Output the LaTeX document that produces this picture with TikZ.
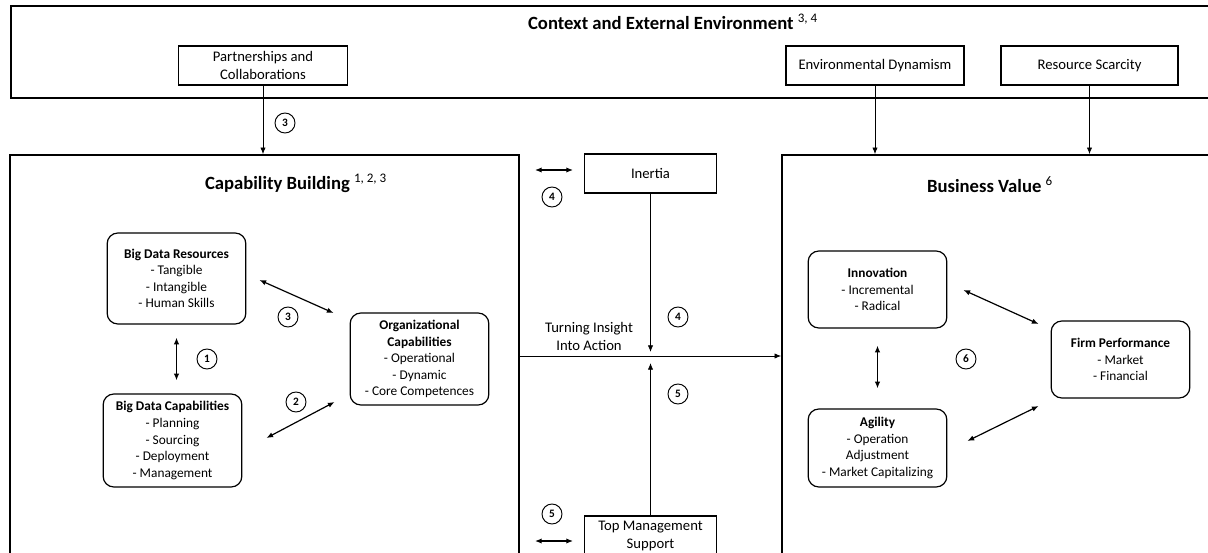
\documentclass[tikz,border=0pt]{standalone}
\usepackage{fontspec}
\setmainfont{Carlito}
\usetikzlibrary{arrows.meta,fit,positioning}
\newcommand{\hochz}[1]{\textsuperscript{\mdseries #1}}
\tikzset{
 frame/.style={draw,line width=1.2pt,inner sep=0pt},
 topbox/.style={draw,line width=0.8pt,align=center,inner sep=0pt,font=\fontsize{11}{13}\selectfont},
 inbox/.style={draw,line width=0.9pt,rounded corners=8pt,align=center,inner sep=0pt,minimum width=104pt,font=\fontsize{10}{12.4}\selectfont},
 num/.style={draw,circle,line width=0.7pt,minimum size=15pt,inner sep=0pt,font=\bfseries\fontsize{8.5}{8.5}\selectfont},
 titel/.style={font=\bfseries\fontsize{14}{16}\selectfont},
 conn/.style={-{Latex[length=5pt,width=4pt]},line width=0.6pt},
 dbl/.style={{Latex[length=5pt,width=4pt]}-{Latex[length=5pt,width=4pt]},line width=0.9pt}
}
\begin{document}
\begin{tikzpicture}[x=0.75pt,y=-0.75pt]
\clip (0,0) rectangle (1208,553);
% Rahmen
\node[frame,fit={(11,6) (1240,98)}] (ctx) {};
\node[frame,fit={(10,155) (519,580)}] (cap) {};
\node[frame,fit={(782,155) (1240,580)}] (bv) {};
\node[titel] (ctxt) at (673,22) {Context and External Environment \hochz{3, 4}};
\node[titel] (capt) at (296,183) {Capability Building \hochz{1, 2, 3}};
\node[titel] (bvt) at (990,185) {Business Value \hochz{6}};
% Umfeld
\node[topbox,minimum width=126.75pt,minimum height=29.25pt] (part) at (263,65.5) {Partnerships and\\Collaborations};
\node[topbox,minimum width=133.5pt,minimum height=29.25pt] (envd) at (875,65.5) {Environmental Dynamism};
\node[topbox,minimum width=132.75pt,minimum height=29.25pt] (ress) at (1089.5,65.5) {Resource Scarcity};
\draw[conn] (part) -- (part |- cap.north);
\draw[conn] (envd) -- (envd |- bv.north);
\draw[conn] (ress) -- (ress |- bv.north);
\node[num] (n3a) at (285,123) {3};
% Capability Building
\node[inbox,minimum height=68.25pt] (bdr) at (176.5,278.5) {{\bfseries Big Data Resources}\\- Tangible\\- Intangible\\- Human Skills};
\node[inbox,minimum height=69.75pt] (bdc) at (172.5,440.5) {{\bfseries Big Data Capabilities}\\- Planning\\- Sourcing\\- Deployment\\- Management};
\node[inbox,minimum height=69pt] (oc) at (419.5,359) {{\bfseries Organizational}\\{\bfseries Capabilities}\\- Operational\\- Dynamic\\- Core Competences};
\draw[dbl,shorten <=9.75pt,shorten >=9.75pt] (bdr.south) -- (bdr.south |- bdc.north);
\draw[dbl] ([shift={(13,1.5)}]bdr.east) -- ([shift={(-16,-46)}]oc.west);
\draw[dbl] ([shift={(24,-2.5)}]bdc.east) -- ([shift={(-15,43)}]oc.west);
\node[num] (n1) at (207,359) {1};
\node[num] (n3b) at (288,317) {3};
\node[num] (n2) at (296,402) {2};
% Mitte
\node[topbox,minimum width=99pt,minimum height=29.25pt] (inertia) at (650.5,173.5) {Inertia};
\node[topbox,minimum width=99pt,minimum height=30pt] (tms) at (650.5,536) {Top Management\\Support};
\node[align=center,inner sep=0pt,font=\fontsize{11}{13.5}\selectfont] (tia) at (589,336) {Turning Insight\\Into Action};
\coordinate (mitte) at (650.5,356);
\draw[conn] (cap.east |- mitte) -- (bv.west |- mitte);
\draw[conn,shorten >=3pt] (inertia) -- (mitte);
\draw[conn,shorten >=5.25pt] (tms) -- (mitte);
\coordinate (ia) at (535,170); \coordinate (ib) at (573,170);
\coordinate (ta) at (535,541); \coordinate (tb) at (573,541);
\draw[dbl] (ia) -- (ib);
\draw[dbl] (ta) -- (tb);
\node[num] (n4a) at (552,197) {4};
\node[num] (n4b) at (678,317) {4};
\node[num] (n5a) at (678,394) {5};
\node[num] (n5b) at (552,514) {5};
% Business Value
\node[inbox,minimum height=57.75pt] (inno) at (877.5,289.5) {{\bfseries Innovation}\\- Incremental\\- Radical};
\node[inbox,minimum height=58.5pt] (agil) at (877.5,448) {{\bfseries Agility}\\- Operation\\Adjustment\\- Market Capitalizing};
\node[inbox,minimum height=57.75pt] (fp) at (1120.5,359.5) {{\bfseries Firm Performance}\\- Market\\- Financial};
\draw[dbl,shorten <=12.75pt,shorten >=15pt] (inno.south) -- (inno.south |- agil.north);
\draw[dbl] ([shift={(16,0.5)}]inno.east) -- ([shift={(-12,-35.5)}]fp.west);
\draw[dbl] ([shift={(20,-7)}]agil.east) -- ([shift={(-12,46.5)}]fp.west);
\node[num] (n6) at (966,359) {6};
\end{tikzpicture}
\end{document}
